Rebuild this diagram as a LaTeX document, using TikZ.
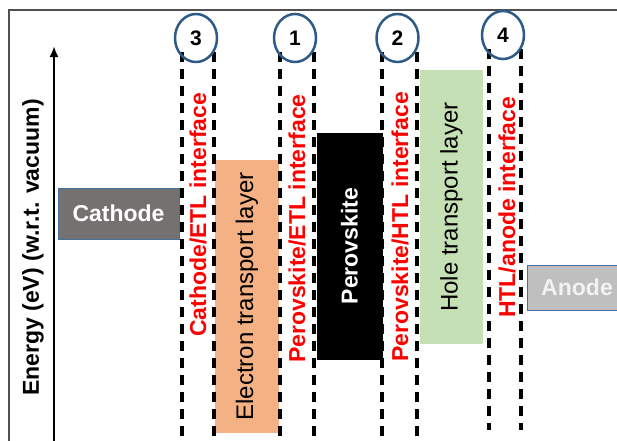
\documentclass[tikz,border=0pt]{standalone}
\usepackage{fontspec}
\setmainfont{Liberation Sans}
\usetikzlibrary{arrows.meta}
\usetikzlibrary{shapes.geometric}
\definecolor{etlorange}{HTML}{F4B183}
\definecolor{htlgreen}{HTML}{C5E0B4}
\definecolor{cathodegray}{HTML}{767171}
\definecolor{anodegray}{HTML}{BFBFBF}
\definecolor{edgeblue}{HTML}{41719C}
\definecolor{ringblue}{HTML}{2E5A88}
\definecolor{framegray}{HTML}{505050}
% pair of dashed lines with a numbered ring on top
\newcommand{\drawInterface}[5]{
	\draw[iface] (#2,#4) -- (#2,#5);
	\draw[iface] (#3,#4) -- (#3,#5);
	\node[ring] (ring#1) at ({(#2+#3)/2-2},{#4-14}) {#1};
}

\begin{document}
\begin{tikzpicture}[x=1pt,y=-1pt,
	iface/.style={line width=3.2pt, dash pattern=on 10pt off 7pt},
	ring/.style={ellipse, draw=ringblue, line width=2.5pt, minimum width=42pt, minimum height=48pt, inner sep=0pt,
		font=\fontsize{21}{21}\selectfont\bfseries},
	iflabel/.style={rotate=90, anchor=west, inner sep=0pt, text=red,
		font=\fontsize{23}{23}\selectfont\bfseries},
	layer/.style={rotate=90, inner sep=0pt, font=\fontsize{24}{24}\selectfont},
	electrode/.style={draw=edgeblue, line width=1pt, inner sep=0pt,
		font=\fontsize{23}{23}\selectfont\bfseries}
]
%%%%%%%%%%%%%%%%%%
\useasboundingbox (0,0) rectangle (617,440);
\clip (0,0) rectangle (617,440);

%Frame
	\draw[framegray, line width=2pt] (9,441) -- (9,10) -- (620,10);

%Energy axis
	\draw[-{Latex[length=11pt,width=9pt]}, line width=2.8pt] (54,441) -- (54,46);
	\node[rotate=90, anchor=west, inner sep=0pt, font=\fontsize{23}{23}\selectfont\bfseries]
		(axislabel) at (33,396) {Energy (eV) (w.r.t. vacuum)};

% Layers
	\node[layer, fill=etlorange, minimum width=273, minimum height=64] (etl) at (247,296.5) {Electron transport layer};
	\node[layer, fill=black, draw=black, text=white, minimum width=226, minimum height=65,
		font=\fontsize{23}{23}\selectfont\bfseries] (pvk) at (349.5,246) {Perovskite};
	\node[layer, fill=htlgreen, minimum width=274, minimum height=63] (htl) at (451.5,207) {Hole transport layer};

% Electrodes
	\node[electrode, fill=cathodegray, text=white, minimum width=121, minimum height=51] (cathode) at (118.5,213.5) {Cathode};
	\node[electrode, fill=anodegray, text=white!95!black, minimum width=100, minimum height=45] (anode) at (577,287.5) {Anode};

% Interfaces
\drawInterface{3}{182}{214}{52}{441}
\drawInterface{1}{280}{314}{52}{441}
\drawInterface{2}{382}{417}{52}{441}
\drawInterface{4}{489}{521}{49}{430}

\node[iflabel] (cathodeetl) at (198,337) {Cathode/ETL interface};
\node[iflabel] (pvketl) at (297,363) {Perovskite/ETL interface};
\node[iflabel] (pvkhtl) at (400,362) {Perovskite/HTL interface};
\node[iflabel] (htlanode) at (507,318) {HTL/anode interface};

\end{tikzpicture}
\end{document}
